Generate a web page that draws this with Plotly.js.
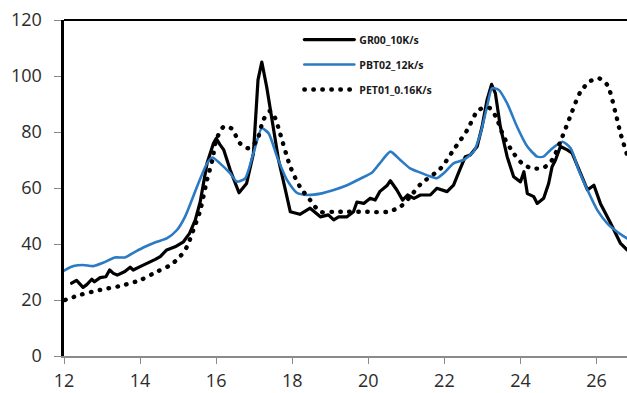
<!DOCTYPE html>
<html>
<head>
<meta charset="utf-8">
<script src="https://cdn.plot.ly/plotly-3.0.1.min.js"></script>
<style>
  html, body { margin: 0; padding: 0; background: #fff; }
  #chart { width: 627px; height: 393px; }
  /* rounded dots for the dotted series, smooth joins for the jagged one */
  .js-line { stroke-linecap: round; stroke-linejoin: round; }
</style>
</head>
<body>
<div id="chart"></div>
<script>
// GR00 heated at 10 K/s
const grX = [12.2, 12.33, 12.5, 12.6, 12.73, 12.8, 12.95, 13.1, 13.2, 13.3, 13.4, 13.5, 13.6, 13.74, 13.82,
  14.0, 14.1, 14.26, 14.4, 14.53, 14.7, 14.92, 15.05, 15.14, 15.3, 15.45, 15.58, 15.76, 15.93, 16.0,
  16.1, 16.2, 16.37, 16.6, 16.8, 16.98, 17.1, 17.2, 17.33, 17.47, 17.64, 17.8, 17.95, 18.2, 18.4,
  18.47, 18.74, 18.95, 19.09, 19.22, 19.44, 19.61, 19.7, 19.88, 20.05, 20.18, 20.3, 20.5, 20.58,
  20.75, 20.9, 21.03, 21.2, 21.37, 21.63, 21.8, 22.07, 22.24, 22.4, 22.55, 22.68, 22.86, 22.99,
  23.12, 23.24, 23.34, 23.47, 23.65, 23.82, 24.0, 24.09, 24.18, 24.35, 24.44, 24.61, 24.74, 24.83,
  24.92, 25.05, 25.23, 25.36, 25.5, 25.76, 25.93, 26.1, 26.37, 26.63, 26.8];
const grY = [26, 27, 24.5, 25.5, 27.4, 26.5, 28, 28.3, 30.7, 29.5, 28.9, 29.5, 30.2, 31.7, 30.7,
  31.9, 32.5, 33.7, 34.5, 35.5, 37.9, 39, 40, 40.8, 43.8, 48.5, 55, 68.8, 76, 77.7,
  75.5, 73.6, 66.4, 58.3, 61.6, 72.4, 98.6, 105, 96, 84, 70, 60.5, 51.5, 50.6, 52,
  52.8, 49.7, 50.4, 48.6, 49.7, 49.7, 51.5, 55, 54.5, 56.3, 55.7, 58.7, 61, 62.6,
  59.3, 55.7, 57.5, 56.3, 57.5, 57.5, 59.9, 58.7, 61, 66.4, 71.2, 71.8, 74.8, 81.9,
  91.4, 97, 93.8, 81.9, 71.2, 64, 62.2, 65.8, 58, 56.9, 54.5, 56.3, 61.6, 67.6,
  70, 74.8, 73.6, 72.4, 67.6, 59.3, 61, 54.5, 47.4, 40.2, 37.9];

// PBT02 heated at 12 K/s
const pbtX = [12.0, 12.25, 12.5, 12.77, 13.03, 13.34, 13.6, 13.87, 14.13, 14.44, 14.7, 14.97, 15.18, 15.36,
  15.53, 15.76, 15.9, 16.1, 16.37, 16.54, 16.76, 16.98, 17.2, 17.38, 17.6, 17.86, 18.12, 18.39,
  18.74, 19.09, 19.44, 19.8, 20.1, 20.3, 20.58, 20.84, 21.1, 21.37, 21.6, 21.8, 22.0, 22.24,
  22.5, 22.77, 22.95, 23.12, 23.25, 23.43, 23.65, 23.91, 24.18, 24.44, 24.6, 24.79, 25.1, 25.32,
  25.53, 25.76, 26.02, 26.28, 26.54, 26.8];
const pbtY = [30.5, 32.1, 32.5, 32.1, 33.3, 35.2, 35.2, 37.2, 39, 40.8, 42, 45, 49.7, 55.7,
  61.6, 68.8, 70.9, 68.8, 65.2, 62.3, 63.4, 72.4, 81.3, 79.5, 71.2, 62.9, 58.3, 57.5,
  58, 59.3, 61, 63.4, 65.5, 68.8, 73, 70, 67, 65.5, 64.3, 63.5, 65.5, 68.8,
  70, 73, 79.5, 89, 95.6, 95, 90.2, 81.9, 74.8, 71.2, 71.2, 73.6, 76.5, 74.2,
  66.4, 59.3, 52.1, 47.4, 44.4, 42];

// PET01 heated at 0.16 K/s
const petX = [12.03, 12.42, 12.95, 13.47, 14.0, 14.44, 14.8, 15.05, 15.23, 15.4, 15.58, 15.76, 15.9, 16.0,
  16.2, 16.4, 16.63, 16.85, 17.07, 17.24, 17.42, 17.55, 17.68, 17.95, 18.2, 18.47, 18.74, 19.08,
  19.44, 19.97, 20.5, 20.84, 21.1, 21.37, 21.9, 22.24, 22.6, 22.9, 23.2, 23.39, 23.56, 23.82,
  24.09, 24.35, 24.6, 24.83, 25.1, 25.32, 25.58, 25.84, 26.06, 26.28, 26.5, 26.63, 26.8];
const petY = [20, 21.8, 23.6, 25, 27.1, 30.1, 32.5, 35.5, 39, 45, 52, 62.9, 70, 77,
  81.9, 81.3, 75.9, 74.2, 77, 84.3, 87.5, 85, 79.5, 67.6, 60.5, 55.7, 51.5, 51.5,
  51.5, 51.5, 51.5, 53.3, 56.9, 61.3, 67, 73.6, 80.7, 87.9, 88.5, 84.3, 78.3, 72.4,
  68.2, 67, 67.2, 70, 78.3, 86, 94.4, 98.2, 99.2, 96.8, 86.7, 79.5, 72];

const xTicks = [12, 14, 16, 18, 20, 22, 24, 26];
const yTicks = [0, 20, 40, 60, 80, 100, 120];

const traces = [
  { x: grX, y: grY, name: 'GR00_10K/s', mode: 'lines', legendgroup: 'a',
    line: { color: '#000000', width: 3.2 } },
  { x: pbtX, y: pbtY, name: 'PBT02_12k/s', mode: 'lines', legendgroup: 'b',
    line: { color: '#2a7ac4', width: 2.6, shape: 'spline', smoothing: 0.6 } },
  { x: petX, y: petY, name: 'PET01_0.16K/s', mode: 'lines', legendgroup: 'c',
    line: { color: '#000000', width: 4.4, dash: '0.5px,8.5px', shape: 'spline', smoothing: 0.8 } }
];

const tickFont = { family: 'Open Sans, sans-serif', size: 18, color: '#2b2b2b' };

const layout = {
  width: 627, height: 393,
  margin: { l: 64, r: 0, t: 20, b: 37 },
  paper_bgcolor: '#ffffff', plot_bgcolor: '#ffffff',
  showlegend: true,
  legend: {
    x: 0.418, y: 0.985, xanchor: 'left', yanchor: 'top',
    bgcolor: 'rgba(0,0,0,0)', borderwidth: 0,
    itemwidth: 50, tracegroupgap: 6,
    font: { family: 'Open Sans, sans-serif', size: 10.5, color: '#1a1a1a', weight: 'bold' }
  },
  xaxis: {
    range: [12, 26.8], tickvals: xTicks, ticktext: xTicks.map(String),
    showgrid: false, zeroline: false,
    showline: true, linecolor: '#8a8a8a', linewidth: 2,
    ticks: 'outside', ticklen: 6, tickcolor: '#8a8a8a', tickwidth: 1,
    ticklabelstandoff: 1,
    tickfont: tickFont
  },
  yaxis: {
    range: [0, 120], tickvals: yTicks, ticktext: yTicks.map(String),
    showgrid: false, zeroline: false,
    showline: true, linecolor: '#000000', linewidth: 2.6,
    ticks: 'outside', ticklen: 7, tickcolor: '#8a8a8a', tickwidth: 1,
    ticklabelstandoff: 9,
    tickfont: tickFont
  },
  shapes: [
    { type: 'line', xref: 'paper', yref: 'paper', x0: 0, x1: 1, y0: 1, y1: 1,
      line: { color: '#000000', width: 2 } }
  ]
};

Plotly.newPlot('chart', traces, layout, { staticPlot: true, displayModeBar: false });
</script>
</body>
</html>
